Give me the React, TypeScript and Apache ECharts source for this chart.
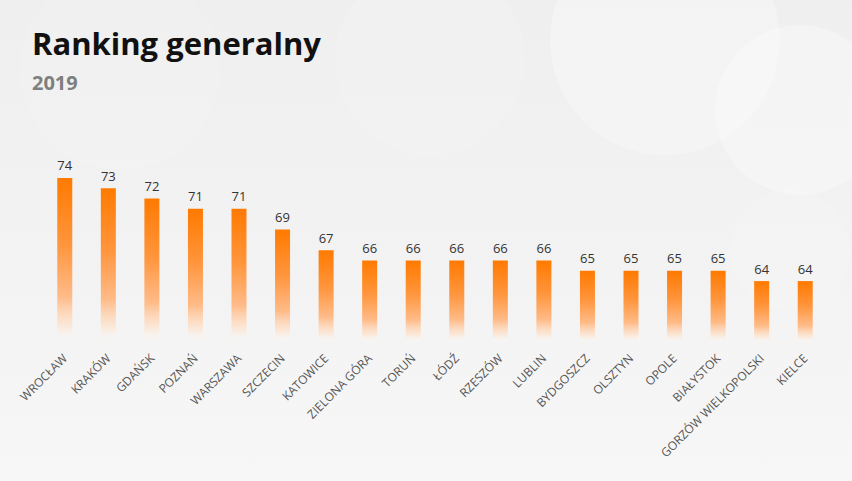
import React, { useEffect, useRef } from "react";
import * as echarts from "echarts";

const categories = [
  "WROCŁAW", "KRAKÓW", "GDAŃSK", "POZNAŃ", "WARSZAWA", "SZCZECIN", "KATOWICE",
  "ZIELONA GÓRA", "TORUŃ", "ŁÓDŹ", "RZESZÓW", "LUBLIN", "BYDGOSZCZ", "OLSZTYN",
  "OPOLE", "BIAŁYSTOK", "GORZÓW WIELKOPOLSKI", "KIELCE",
];
const values = [74, 73, 72, 71, 71, 69, 67, 66, 66, 66, 66, 66, 65, 65, 65, 65, 64, 64];
const titleText = "Ranking generalny";
const subtitleText = "2019";

export default function App() {
  const ref = useRef<HTMLDivElement>(null);
  useEffect(() => {
    if (!ref.current) return;
    const chart = echarts.init(ref.current, null, { renderer: "svg" });
    chart.setOption({
      animation: false,
      backgroundColor: new echarts.graphic.LinearGradient(0, 0, 0, 1, [
        { offset: 0, color: "#efefef" },
        { offset: 0.6, color: "#f3f3f3" },
        { offset: 1, color: "#f7f7f7" },
      ]),
      graphic: [
        { type: "circle", shape: { cx: 665, cy: 40, r: 115 }, style: { fill: "rgba(255,255,255,0.25)" }, silent: true },
        { type: "circle", shape: { cx: 800, cy: 110, r: 85 }, style: { fill: "rgba(255,255,255,0.3)" }, silent: true },
        { type: "circle", shape: { cx: 430, cy: 60, r: 95 }, style: { fill: "rgba(255,255,255,0.12)" }, silent: true },
        { type: "circle", shape: { cx: 120, cy: 70, r: 100 }, style: { fill: "rgba(255,255,255,0.1)" }, silent: true },
        { type: "circle", shape: { cx: 790, cy: 250, r: 60 }, style: { fill: "rgba(255,255,255,0.12)" }, silent: true },
        {
          type: "text", left: 32, top: 27,
          style: { text: titleText, fontFamily: "Open Sans", fontWeight: "bold", fontSize: 31, fill: "#111111" },
        },
        {
          type: "text", left: 32, top: 72,
          style: { text: subtitleText, fontFamily: "Open Sans", fontWeight: "bold", fontSize: 20, fill: "#7f7f7f" },
        },
      ],
      tooltip: { show: false },
      grid: { left: 43, right: 25, top: 116, bottom: 138, containLabel: false },
      xAxis: {
        type: "category",
        data: categories,
        axisLine: { show: false },
        axisTick: { show: false },
        axisPointer: { show: false },
        axisLabel: {
          rotate: 45,
          interval: 0,
          margin: 13,
          fontFamily: "Open Sans",
          fontSize: 12,
          color: "#555555",
        },
      },
      yAxis: {
        type: "value",
        min: 58,
        max: 80,
        show: false,
        splitLine: { show: false },
      },
      series: [
        {
          type: "bar",
          data: values,
          barWidth: 15,
          emphasis: { disabled: true },
          itemStyle: {
            color: new echarts.graphic.LinearGradient(0, 0, 0, 1, [
              { offset: 0, color: "#ff7a00" },
              { offset: 0.4, color: "#ff953c" },
              { offset: 0.72, color: "#ffbb88" },
              { offset: 0.9, color: "rgba(255,225,200,0.6)" },
              { offset: 1, color: "rgba(255,255,255,0)" },
            ]),
          },
          label: {
            show: true,
            position: "top",
            distance: 6,
            fontFamily: "Open Sans",
            fontSize: 13,
            color: "#333333",
          },
        },
      ],
    });
    return () => chart.dispose();
  }, []);
  return <div ref={ref} style={{ width: 852, height: 481, position: "absolute", left: 0, top: 0 }} />;
}
